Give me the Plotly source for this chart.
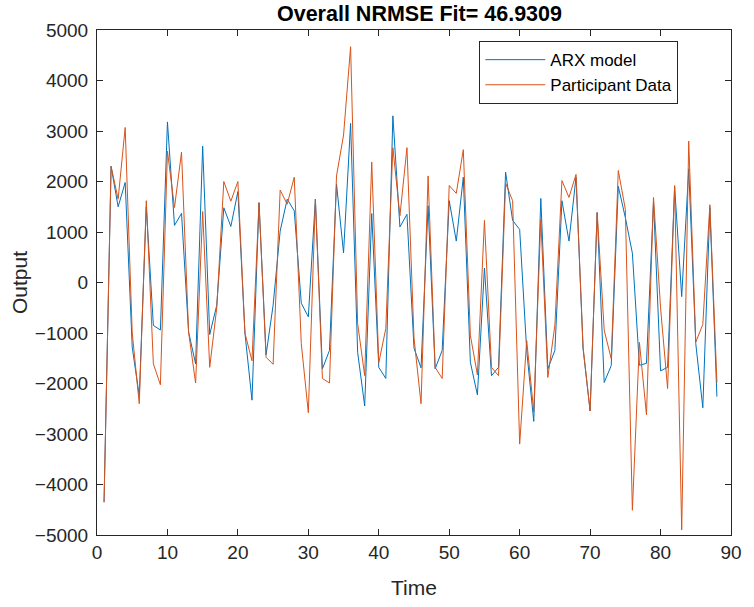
import plotly.graph_objects as go

# Sample index (time steps)
time = list(range(1, 89))

# ARX model simulated output
arx_model = [
    -4350, 2300, 1500, 1980, -1280, -2250, 1500, -850, -940, 3180,
    1130, 1370, -980, -1610, 2700, -1030, -450, 1480, 1110, 1800,
    -1000, -2330, 1580, -1430, -450, 1020, 1650, 1420, -410, -680,
    1650, -1710, -1345, 1950, 586, 3150, -1380, -2445, 1365, -1680,
    -1900, 3300, 1100, 1350, -1300, -1690, 1520, -1710, -1345, 1620,
    820, 2085, -1580, -2225, 286, -1845, -1680, 2185, 1230, 1050,
    -1350, -2750, 1665, -1710, -1345, 1620, 820, 2085, -1310, -2545,
    1385, -1980, -1645, 1905, 1285, 580, -1640, -1600, 1600, -1750,
    -1680, 1900, -280, 2250, -1210, -2480, 1485, -2260,
]

# Measured participant output
participant = [
    -4350, 2300, 1650, 3070, -1000, -2400, 1620, -1610, -2025, 2600,
    1485, 2580, -980, -1990, 1405, -1680, -500, 2000, 1610, 2000,
    -1000, -1550, 1580, -1480, -1620, 1830, 1550, 2085, -1210, -2580,
    1650, -1900, -1990, 2110, 2920, 4670, -810, -1845, 2385, -1590,
    -910, 2670, 1320, 2670, -1100, -2400, 2110, -1680, -1900, 1920,
    1765, 2630, -1045, -1830, 1230, -1680, -1845, 1965, 1620, -3200,
    -1150, -2560, 1250, -1880, -845, 2018, 1685, 2140, -1280, -2545,
    1385, -945, -1510, 2218, 1450, -4510, -1185, -2620, 1685, -500,
    -2100, 1920, -4900, 2800, -1180, -830, 1540, -1980,
]

fit_value = 46.9309
x_ticks = list(range(0, 91, 10))
y_ticks = list(range(-5000, 5001, 1000))

FONT = "Liberation Sans, Arial, sans-serif"
AXIS_COLOR = "#262626"

fig = go.Figure()
fig.add_trace(go.Scatter(x=time, y=arx_model, mode="lines", name="ARX model",
                         line=dict(color="#0072BD", width=1)))
fig.add_trace(go.Scatter(x=time, y=participant, mode="lines", name="Participant Data",
                         line=dict(color="#D95319", width=1)))

axis_common = dict(
    showline=True, linecolor=AXIS_COLOR, linewidth=1, mirror="ticks",
    ticks="inside", ticklen=6, tickcolor=AXIS_COLOR, tickwidth=1,
    showgrid=False, zeroline=False,
    tickfont=dict(family=FONT, size=19, color=AXIS_COLOR),
)

fig.update_layout(
    width=754, height=607,
    margin=dict(l=97, r=12, t=30, b=69),
    paper_bgcolor="white", plot_bgcolor="white",
    title=dict(text=f"<b>Overall NRMSE Fit= {fit_value}</b>",
               x=(97 + 742) / 2 / 754, xanchor="center",
               y=1 - 13 / 607, yanchor="middle",
               font=dict(family=FONT, size=21.5, color="black")),
    xaxis=dict(range=[0, 90], tickvals=x_ticks,
               title=dict(text="Time", font=dict(family=FONT, size=21, color=AXIS_COLOR), standoff=18),
               **axis_common),
    yaxis=dict(range=[-5000, 5000], tickvals=y_ticks, ticklabelstandoff=4,
               title=dict(text="Output", font=dict(family=FONT, size=21, color=AXIS_COLOR), standoff=1),
               **axis_common),
    legend=dict(x=0.603, y=0.978, xanchor="left", yanchor="top",
                bgcolor="white", bordercolor=AXIS_COLOR, borderwidth=1,
                font=dict(family=FONT, size=17, color="black"),
                itemwidth=60, tracegroupgap=0),
    showlegend=True,
)

fig.write_html("out.html")
